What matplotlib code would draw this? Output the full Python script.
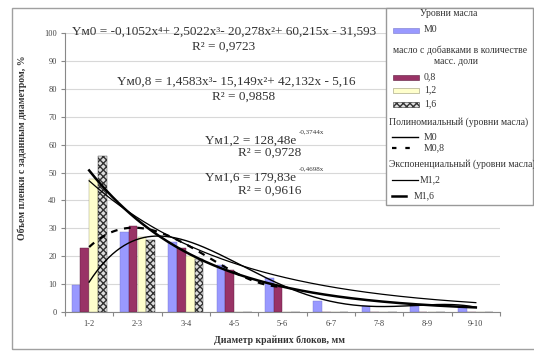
import numpy as np
import matplotlib
matplotlib.use("Agg")
import matplotlib.pyplot as plt
from matplotlib.patches import Rectangle
from matplotlib.lines import Line2D

# data
categories = ["1-2", "2-3", "3-4", "4-5", "5-6", "6-7", "7-8", "8-9", "9-10"]
m0 = [9.5, 28.5, 25.0, 16.8, 12.3, 4.0, 2.0, 2.0, 2.0]
m08 = [23.0, 30.8, 23.0, 15.0, 9.0, 0, 0, 0, 0]
m12 = [47.5, 27.0, 20.0, 0, 0, 0, 0, 0, 0]
m16 = [56.0, 25.8, 19.0, 0, 0, 0, 0, 0, 0]

# trendlines (x = 1 at first category)
poly_m0 = [-0.1052, 2.5022, -20.278, 60.215, -31.593]
poly_m08 = [1.4583, -15.149, 42.132, -5.16]
exp_m12 = [65.4, -0.33]   # fitted by eye to the drawn curve
exp_m16 = [78.0, -0.43]

W, H = 534, 351
fig = plt.figure(figsize=(W / 100, H / 100), dpi=100)
plt.rcParams["font.family"] = ["Liberation Serif", "DejaVu Serif"]


def fx(x):
    return x / W


def fy(y):
    return 1 - y / H


# outer chart frame
fig.patches.append(Rectangle((fx(12), fy(349)), fx(530), 341 / H, transform=fig.transFigure,
                             fill=False, edgecolor="#a0a0a0", lw=1.0))

ax = fig.add_axes([fx(65), fy(312), 435 / W, 279 / H])
ax.set_xlim(-0.5, 8.5)
ax.set_ylim(0, 100)

x = np.arange(len(categories))
bw = 0.18
ax.bar(x - 1.5 * bw, m0, bw, color="#9999ff", edgecolor="#7777cc", lw=0.3, zorder=2)
ax.bar(x - 0.5 * bw, m08, bw, color="#993366", edgecolor="#5a1a3a", lw=0.3, zorder=2)
ax.bar(x + 0.5 * bw, m12, bw, color="#ffffcc", edgecolor="#999977", lw=0.3, zorder=2)
ax.bar(x + 1.5 * bw, m16, bw, color="#dddddd", edgecolor="#333333", hatch="xxxxx", lw=0.3, zorder=2)

t = np.linspace(1, 9, 200)
ax.plot(t - 1, np.polyval(poly_m0, t), color="black", lw=1.0, zorder=3)
t5 = np.linspace(1, 5, 120)
ax.plot(t5 - 1, np.polyval(poly_m08, t5), color="black", lw=1.6, ls=(0, (3, 3)), zorder=3)
ax.plot(t - 1, exp_m12[0] * np.exp(exp_m12[1] * t), color="black", lw=0.9, zorder=3)
ax.plot(t - 1, exp_m16[0] * np.exp(exp_m16[1] * t), color="black", lw=1.8, zorder=3)

ax.set_yticks(np.arange(0, 101, 10))
ax.yaxis.grid(True, color="#d8d8d8", lw=0.8, zorder=0)
ax.set_axisbelow(True)
ax.set_xticks(np.arange(-0.5, 9, 1))
ax.set_xticklabels([])
ax.set_xticks(x, minor=True)
ax.set_xticklabels(categories, minor=True)
ax.tick_params(axis="x", which="minor", length=0, pad=6, labelsize=6, colors="#444444")
ax.tick_params(axis="x", which="major", length=3, color="#888888")
ax.tick_params(axis="y", length=3, color="#888888", labelsize=6, labelcolor="#444444", pad=3)
for s in ["top", "right"]:
    ax.spines[s].set_visible(False)
for s in ["left", "bottom"]:
    ax.spines[s].set_color("#888888")
    ax.spines[s].set_linewidth(0.8)

fig.text(fx(280), fy(340), "Диаметр крайних блоков, мм", ha="center", va="center",
         fontsize=7, fontweight="bold", color="#333333")
fig.text(fx(22), fy(148), "Объем пленки с заданным диаметром, %", rotation=90,
         ha="center", va="center", fontsize=7, fontweight="bold", color="#333333")

# trendline equations
eq = dict(fontsize=9.5, color="#333333", ha="left", va="center")
fig.text(fx(72), fy(32), "Yм0 = -0,1052x⁴+ 2,5022x³- 20,278x²+ 60,215x - 31,593", **eq)
fig.text(fx(192), fy(47), "R² = 0,9723", **eq)
fig.text(fx(117), fy(82), "Yм0,8 = 1,4583x³- 15,149x²+ 42,132x - 5,16", **eq)
fig.text(fx(212), fy(97), "R² = 0,9858", **eq)
fig.text(fx(205), fy(141), "Yм1,2 = 128,48e", **eq)
fig.text(fx(299), fy(132), "-0,3744x", fontsize=5, color="#333333", ha="left", va="center")
fig.text(fx(238), fy(153), "R² = 0,9728", **eq)
fig.text(fx(205), fy(178), "Yм1,6 = 179,83e", **eq)
fig.text(fx(299), fy(169), "-0,4698x", fontsize=5, color="#333333", ha="left", va="center")
fig.text(fx(238), fy(191), "R² = 0,9616", **eq)

# legend box
fig.patches.append(Rectangle((fx(386), fy(205)), fx(147), 197 / H, transform=fig.transFigure,
                             facecolor="white", edgecolor="#999999", lw=1.0, zorder=5))
lg = dict(fontsize=7, color="#333333", va="center", zorder=6)


def swatch(y, **kw):
    fig.patches.append(Rectangle((fx(393), fy(y + 2.5)), fx(26), 5 / H, transform=fig.transFigure,
                                 zorder=6, lw=0.4, **kw))


def lline(y, x1, **kw):
    fig.lines.append(Line2D([fx(392), fx(x1)], [fy(y), fy(y)], transform=fig.transFigure,
                            color="black", zorder=6, **kw))


fig.text(fx(449), fy(14), "Уровни масла", ha="center", **lg)
swatch(30, facecolor="#9999ff", edgecolor="#7777cc")
fig.text(fx(424), fy(30), "М0", ha="left", **lg)
fig.text(fx(460), fy(50), "масло с добавками в количестве", ha="center", **lg)
fig.text(fx(456), fy(62), "масс. доли", ha="center", **lg)
swatch(77, facecolor="#993366", edgecolor="#5a1a3a")
fig.text(fx(424), fy(77), "0,8", ha="left", **lg)
swatch(90, facecolor="#ffffcc", edgecolor="#999977")
fig.text(fx(424), fy(90), "1,2", ha="left", **lg)
swatch(104, facecolor="#dddddd", edgecolor="#333333", hatch="xxxxx")
fig.text(fx(424), fy(104), "1,6", ha="left", **lg)
fig.text(fx(389), fy(122), "Полиномиальный (уровни масла)", ha="left", **lg)
lline(137, 418, lw=1.0)
fig.text(fx(424), fy(137), "М0", ha="left", **lg)
lline(148, 418, lw=1.6, ls=(0, (2, 4)))
fig.text(fx(424), fy(148), "М0,8", ha="left", **lg)
fig.text(fx(389), fy(164), "Экспоненциальный (уровни масла)", ha="left", **lg)
lline(180, 418, lw=0.9)
fig.text(fx(420), fy(180), "М1,2", ha="left", **lg)
lline(196, 406, lw=1.8)
fig.text(fx(414), fy(196), "М1,6", ha="left", **lg)

fig.savefig("out.png", dpi=100)
